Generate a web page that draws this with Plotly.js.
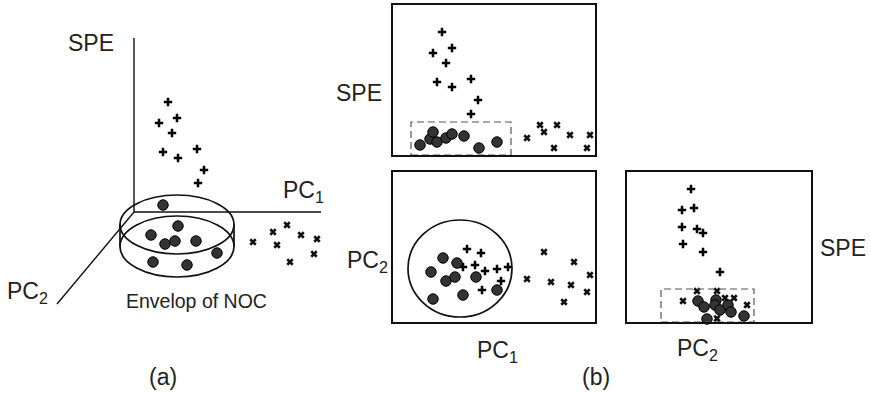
<!DOCTYPE html>
<html>
<head>
<meta charset="utf-8">
<script src="https://cdn.plot.ly/plotly-3.0.1.min.js"></script>
<style>html,body{margin:0;padding:0;background:#fff;}#chart{width:871px;height:396px;}</style>
</head>
<body>
<div id="chart"></div>
<script>
// ---------- Panel (a): pseudo-3D view (PC1 right, SPE up, PC2 toward viewer) ----------
var a_faultSPE_x  = [34, 43, 25, 38, 29, 44, 63, 70, 64];
var a_faultSPE_y  = [110, 94, 89, 79, 60, 54, 63, 42, 29];
var a_noc_x       = [29, 44, 17, 31, 41, 62, 83, 19, 53];
var a_noc_y       = [7, -14, -23, -32, -29, -29, -41, -50, -53];
var a_faultT2_x   = [119, 139, 153, 143, 167, 183, 156, 180];
var a_faultT2_y   = [-30, -20, -13, -33, -23, -27, -50, -42];

// ---------- Panel (b) top: SPE vs PC1 ----------
var b1_plusPC1 = [49, 40, 59, 53, 44, 59, 78, 85, 78];
var b1_plusSPE = [123, 102, 107, 92, 73, 68, 76, 55, 41];
var b1_nocPC1  = [27, 37, 40, 44, 53, 59, 71, 86, 104];
var b1_nocSPE  = [10, 16, 23, 13, 17, 21, 19, 7, 13];
var b1_xPC1    = [134, 147, 151, 164, 177, 161, 197, 194];
var b1_xSPE    = [17, 30, 23, 30, 20, 7, 20, 7];

// ---------- Panel (b) bottom-left: PC2 vs PC1 ----------
var b2_nocPC1  = [50, 64, 38, 53, 62, 83, 104, 40, 70];
var b2_nocPC2  = [64, 59, 50, 41, 45, 45, 32, 23, 27];
var b2_plusPC1 = [74, 88, 70, 82, 92, 104, 115, 108, 89];
var b2_plusPC2 = [73, 69, 55, 57, 51, 53, 55, 41, 32];
var b2_xPC1    = [151, 181, 134, 158, 178, 197, 194, 171];
var b2_xPC2    = [70, 60, 43, 40, 37, 47, 30, 20];

// ---------- Panel (b) bottom-right: SPE vs PC2 ----------
var b3_plusPC2 = [64, 55, 67, 55, 70, 76, 56, 76, 93];
var b3_plusSPE = [133, 112, 114, 95, 93, 89, 78, 70, 50];
var b3_nocPC2  = [71, 77, 89, 88, 93, 101, 104, 117, 80];
var b3_nocSPE  = [21, 15, 22, 17, 12, 17, 10, 6, 3];
var b3_xPC2    = [56, 70, 90, 98, 107, 120, 90];
var b3_xSPE    = [21, 31, 31, 24, 24, 17, 3.5];

// limits (control regions)
var spePC1Limit = {x0: 18, x1: 118, y0: 0, y1: 33};
var pcEllipse   = {x0: 15, x1: 119, y0: 5, y1: 102};
var spePC2Limit = {x0: 34, x1: 127, y0: 0, y1: 33};

var plusM = {symbol: 'cross-thin', size: 6, color: '#000', line: {width: 2.5, color: '#000'}};
var nocM  = {symbol: 'circle', size: 10.5, color: '#333', line: {width: 1, color: '#000'}};
var xM    = {symbol: 'x-thin', size: 5.5, color: '#111', line: {width: 2.6, color: '#111'}};

function tr(x, y, m, xa, ya) {
  return {x: x, y: y, mode: 'markers', type: 'scatter', marker: m, xaxis: xa, yaxis: ya,
          hoverinfo: 'skip', showlegend: false, cliponaxis: false};
}

var data = [
  tr(a_faultSPE_x, a_faultSPE_y, plusM, 'x4', 'y4'),
  tr(a_noc_x, a_noc_y, nocM, 'x4', 'y4'),
  tr(a_faultT2_x, a_faultT2_y, xM, 'x4', 'y4'),
  tr(b1_plusPC1, b1_plusSPE, plusM, 'x', 'y'),
  tr(b1_nocPC1, b1_nocSPE, nocM, 'x', 'y'),
  tr(b1_xPC1, b1_xSPE, xM, 'x', 'y'),
  tr(b2_plusPC1, b2_plusPC2, plusM, 'x2', 'y2'),
  tr(b2_nocPC1, b2_nocPC2, nocM, 'x2', 'y2'),
  tr(b2_xPC1, b2_xPC2, xM, 'x2', 'y2'),
  tr(b3_plusPC2, b3_plusSPE, plusM, 'x3', 'y3'),
  tr(b3_nocPC2, b3_nocSPE, nocM, 'x3', 'y3'),
  tr(b3_xPC2, b3_xSPE, xM, 'x3', 'y3')
];

var W = 871, H = 396;
function boxAxis(dom, rng) {
  return {domain: dom, range: rng, showline: true, mirror: true, linewidth: 2, linecolor: '#111',
          showgrid: false, zeroline: false, showticklabels: false, ticks: '', fixedrange: true};
}
var hidden = function(dom, rng, anchor) {
  return {domain: dom, range: rng, visible: false, fixedrange: true, anchor: anchor};
};

var axLine = {color: '#111', width: 1.4};
var cyl = {color: '#111', width: 1.7};
var dashLine = {color: '#555', width: 1.2, dash: '7px,4px'};
var shapes = [
  // panel (a) axes
  {type: 'line', xref: 'x4', yref: 'y4', x0: 0, y0: 0, x1: 0, y1: 174, line: axLine},
  {type: 'line', xref: 'x4', yref: 'y4', x0: 0, y0: 0, x1: 187, y1: 0, line: axLine},
  {type: 'line', xref: 'x4', yref: 'y4', x0: 0, y0: 0, x1: -77, y1: -92, line: axLine},
  // NOC envelope cylinder
  {type: 'circle', xref: 'x4', yref: 'y4', x0: -14, x1: 100, y0: -42, y1: 17, line: cyl},
  {type: 'circle', xref: 'x4', yref: 'y4', x0: -14, x1: 100, y0: -65, y1: -4, line: cyl},
  {type: 'line', xref: 'x4', yref: 'y4', x0: -14, x1: -14, y0: -12.5, y1: -34.5, line: cyl},
  {type: 'line', xref: 'x4', yref: 'y4', x0: 100, x1: 100, y0: -12.5, y1: -34.5, line: cyl},
  // control limits in (b)
  {type: 'rect', xref: 'x', yref: 'y', x0: spePC1Limit.x0, x1: spePC1Limit.x1, y0: spePC1Limit.y0, y1: spePC1Limit.y1, line: dashLine},
  {type: 'circle', xref: 'x2', yref: 'y2', x0: pcEllipse.x0, x1: pcEllipse.x1, y0: pcEllipse.y0, y1: pcEllipse.y1, line: cyl},
  {type: 'rect', xref: 'x3', yref: 'y3', x0: spePC2Limit.x0, x1: spePC2Limit.x1, y0: spePC2Limit.y0, y1: spePC2Limit.y1, line: dashLine}
];

var F = {family: 'Liberation Sans, Arial, sans-serif', size: 23, color: '#222'};
function ann(text, x, y, xanchor, size) {
  var f = Object.assign({}, F); if (size) f.size = size;
  return {text: text, x: x, y: y, xref: 'x4', yref: 'y4', xanchor: xanchor, yanchor: 'middle',
          showarrow: false, font: f};
}
var annotations = [
  ann('SPE', -43, 169, 'center'),
  ann('PC<sub>1</sub>', 147, 21, 'left'),
  ann('PC<sub>2</sub>', -129, -80, 'left'),
  ann('Envelop of NOC', 62, -89, 'center', 19.5),
  ann('(a)', 29, -165, 'center'),
  ann('SPE', 224.5, 118.6, 'center'),
  ann('PC<sub>2</sub>', 211, -49, 'left'),
  ann('PC<sub>1</sub>', 341, -139, 'left'),
  ann('(b)', 462, -165, 'center'),
  ann('SPE', 684, -36, 'left'),
  ann('PC<sub>2</sub>', 541, -137, 'left')
];

var layout = {
  width: W, height: H,
  margin: {l: 0, r: 0, t: 0, b: 0, pad: 0},
  paper_bgcolor: '#fff', plot_bgcolor: 'rgba(0,0,0,0)',
  showlegend: false,
  xaxis:  boxAxis([393 / W, 595 / W], [0, 202]),
  yaxis:  boxAxis([1 - 155 / H, 1 - 5 / H], [0, 150]),
  xaxis2: boxAxis([393 / W, 595 / W], [0, 202]),
  yaxis2: boxAxis([1 - 322 / H, 1 - 172 / H], [0, 150]),
  xaxis3: boxAxis([627 / W, 811 / W], [0, 184]),
  yaxis3: boxAxis([1 - 322 / H, 1 - 172 / H], [0, 150]),
  xaxis4: hidden([0, 1], [-134, 737], 'y4'),
  yaxis4: hidden([0, 1], [-184, 212], 'x4'),
  shapes: shapes,
  annotations: annotations
};
layout.xaxis.anchor = 'y'; layout.yaxis.anchor = 'x';
layout.xaxis2.anchor = 'y2'; layout.yaxis2.anchor = 'x2';
layout.xaxis3.anchor = 'y3'; layout.yaxis3.anchor = 'x3';

Plotly.newPlot('chart', data, layout, {staticPlot: true, displayModeBar: false});
</script>
</body>
</html>
